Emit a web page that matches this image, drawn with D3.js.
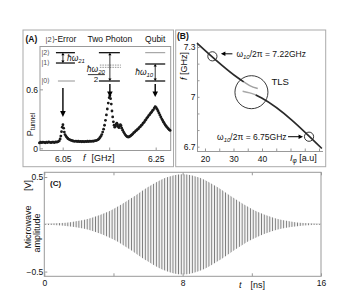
<!DOCTYPE html>
<html>
<head>
<meta charset="utf-8">
<script src="https://cdn.jsdelivr.net/npm/d3@7"></script>
<style>
  body { margin: 0; background: #fff; }
  svg { display: block; font-family: "Liberation Sans", Arial, sans-serif; }
</style>
</head>
<body>
<div id="chart"></div>
<script>
// (A) tunnelling probability vs microwave frequency [GHz, P]
var specA = [
  [6.000,0.055],[6.0025,0.062],[6.005,0.058],[6.0075,0.064],[6.010,0.060],[6.0125,0.057],
  [6.015,0.063],[6.0175,0.059],[6.020,0.065],[6.0225,0.061],[6.025,0.058],[6.0275,0.064],
  [6.030,0.062],[6.0325,0.059],[6.035,0.066],[6.0375,0.063],[6.040,0.068],[6.0425,0.075],
  [6.0445,0.095],[6.046,0.125],[6.0475,0.170],[6.049,0.215],[6.0505,0.240],[6.052,0.205],
  [6.0535,0.165],[6.055,0.140],[6.057,0.125],[6.059,0.112],[6.061,0.100],[6.0635,0.092],
  [6.066,0.086],[6.0685,0.080],[6.071,0.077],[6.0735,0.073],[6.076,0.071],[6.0785,0.074],
  [6.081,0.069],[6.0835,0.072],[6.086,0.068],[6.0885,0.071],[6.091,0.067],[6.0935,0.070],
  [6.096,0.066],[6.0985,0.071],[6.101,0.068],[6.1035,0.072],[6.106,0.069],[6.1085,0.073],
  [6.111,0.070],[6.1135,0.074],[6.116,0.072],[6.1185,0.076],[6.121,0.078],[6.1235,0.082],
  [6.126,0.088],[6.128,0.096],[6.130,0.108],[6.132,0.122],[6.134,0.140],[6.136,0.165],
  [6.138,0.195],[6.140,0.235],[6.142,0.285],[6.144,0.340],[6.146,0.400],[6.148,0.460],
  [6.150,0.515],[6.1515,0.535],[6.153,0.505],[6.1545,0.450],[6.156,0.380],[6.1575,0.320],
  [6.159,0.270],[6.1605,0.235],[6.162,0.215],[6.1635,0.225],[6.165,0.245],[6.1665,0.255],
  [6.168,0.240],[6.1695,0.220],[6.171,0.210],[6.1725,0.225],[6.174,0.240],[6.1755,0.230],
  [6.177,0.205],[6.179,0.185],[6.181,0.165],[6.183,0.150],[6.185,0.135],[6.187,0.125],
  [6.189,0.118],[6.191,0.115],[6.193,0.118],[6.195,0.124],[6.197,0.131],[6.199,0.139],
  [6.201,0.148],[6.203,0.160],[6.205,0.165],[6.207,0.178],[6.209,0.183],[6.211,0.195],
  [6.213,0.200],[6.215,0.214],[6.217,0.220],[6.219,0.233],[6.221,0.242],[6.223,0.257],
  [6.225,0.265],[6.227,0.281],[6.229,0.292],[6.231,0.308],[6.233,0.318],[6.235,0.333],
  [6.237,0.342],[6.239,0.358],[6.241,0.368],[6.243,0.383],[6.245,0.392],[6.247,0.410],
  [6.249,0.425],[6.251,0.415],[6.253,0.398],[6.255,0.380],[6.257,0.360],[6.259,0.340],
  [6.261,0.320],[6.263,0.300],[6.265,0.283],[6.267,0.266],[6.269,0.250],[6.271,0.236],
  [6.273,0.223],[6.275,0.211],[6.277,0.200],[6.279,0.190],[6.281,0.182]
];
var peaksA = [6.0505, 6.1515, 6.249];
var titlesA = ["-Error", "Two Photon", "Qubit"];
var ticksAx = [6.05, 6.15, 6.25];
var ticksAy = [0, 0.6];

// (B) qubit frequency vs flux bias [I_phi a.u., GHz]
var lineTop = [[17.2,7.324],[31.5,7.115],[33.6,7.090]];
var fadeTop = [[33.6,7.090],[35.7,7.068],[38.5,7.050]];
var fadeBottom = [[33.2,7.034],[35.7,7.024],[37.8,7.012]];
var lineBottom = [[37.8,7.012],[39.9,6.993],[61.0,6.689]];
var markHigh = [22.6, 7.244];
var markLow = [56.5, 6.760];
var markTLS = [36.3, 7.028];
var ticksBx = [20, 25, 30, 35, 40, 45, 50, 55, 60];
var labelsBx = [20, 30, 40];
var ticksBy = [6.7, 6.8, 6.9, 7.0, 7.1, 7.2, 7.3];
var labelsBy = [6.7, 7.0, 7.3];

// (C) gaussian microwave pulse: envelope amplitude [V] vs time [ns]
var pulseT = [0,0.5,1,1.5,2,2.5,3,3.5,4,4.5,5,5.5,6,6.5,7,7.5,8,
              8.5,9,9.5,10,10.5,11,11.5,12,12.5,13,13.5,14,14.5,15,15.5,16];
var pulseAmp = [0.004,0.008,0.014,0.023,0.037,0.056,0.084,0.119,0.162,0.214,0.272,0.334,0.394,0.448,0.492,0.520,0.530,
                0.520,0.492,0.448,0.394,0.334,0.272,0.214,0.162,0.119,0.084,0.056,0.037,0.023,0.014,0.008,0.004];
var carrierGHz = 6.25;
var ticksCx = [0, 4, 8, 12, 16];
var labelsCx = [0, 8, 16];
var ticksCy = [-0.5, 0.5];

var width = 349, height = 299;
var svg = d3.select("#chart").append("svg")
    .attr("width", width)
    .attr("height", height);
var defs = svg.append("defs");

var frame = "#999", ink = "#111";

function arrow(g, x1, y1, x2, y2, len, half, sw, both) {
  var a = Math.atan2(y2 - y1, x2 - x1);
  function head(px, py, ang) {
    var bx = px - len * Math.cos(ang), by = py - len * Math.sin(ang);
    var p = [[px, py],
             [bx + half * Math.sin(ang), by - half * Math.cos(ang)],
             [bx - half * Math.sin(ang), by + half * Math.cos(ang)]];
    g.append("path").attr("d", "M" + p.join("L") + "Z").attr("fill", "#000");
  }
  var s = both ? len * 0.7 : 0;
  g.append("line")
      .attr("x1", x1 + s * Math.cos(a)).attr("y1", y1 + s * Math.sin(a))
      .attr("x2", x2 - len * 0.7 * Math.cos(a)).attr("y2", y2 - len * 0.7 * Math.sin(a))
      .attr("stroke", "#000").attr("stroke-width", sw);
  head(x2, y2, a);
  if (both) head(x1, y1, a + Math.PI);
}

// ---------- outer boxes ----------
svg.append("rect").attr("x", 23).attr("y", 30).attr("width", 150.5).attr("height", 136.7)
    .attr("fill", "none").attr("stroke", "#aaa").attr("stroke-width", 1);
svg.append("rect").attr("x", 175.7).attr("y", 30).attr("width", 150).attr("height", 136.7)
    .attr("fill", "none").attr("stroke", "#aaa").attr("stroke-width", 1);

// ---------- panel A ----------
var xA = d3.scaleLinear().domain([6.0012, 6.2823]).range([40, 170.7]);
var yA = d3.scaleLinear().domain([-0.022, 1.036]).range([150.5, 46.5]);
var gA = svg.append("g");

gA.append("rect").attr("x", 40).attr("y", 46.5).attr("width", 130.7).attr("height", 104)
    .attr("fill", "none").attr("stroke", frame).attr("stroke-width", 1);

var axAx = gA.append("g").attr("transform", "translate(0,150.5)")
    .call(d3.axisBottom(xA).tickValues(ticksAx).tickSize(-3).tickPadding(5)
      .tickFormat(function(d) { return d === 6.15 ? "" : d3.format(".2f")(d); }));
var axAy = gA.append("g").attr("transform", "translate(40,0)")
    .call(d3.axisLeft(yA).tickValues(ticksAy).tickSize(-3).tickPadding(2).tickFormat(d3.format("")));
[axAx, axAy].forEach(function(a) {
  a.select(".domain").remove();
  a.selectAll("line").attr("stroke", frame);
  a.selectAll("text").attr("font-size", 8.5).attr("fill", ink).attr("font-family", "Liberation Sans, Arial");
});
axAy.selectAll("text").attr("dy", "0.35em");

gA.selectAll(".dot")
    .data(specA)
  .enter().append("circle")
    .attr("class", "dot")
    .attr("cx", function(d) { return xA(d[0]); })
    .attr("cy", function(d) { return yA(d[1]); })
    .attr("r", 1.4)
    .attr("fill", "#1a1a1a");

// titles
gA.append("text").attr("x", 25.5).attr("y", 41.5).attr("font-size", 8.5).attr("font-weight", "bold")
    .attr("fill", ink).text("(A)");
peaksA.forEach(function(p, i) {
  var t = gA.append("text").attr("x", xA(p) - (i === 0 ? 2 : 0)).attr("y", 41.5)
      .attr("text-anchor", "middle").attr("font-size", 8.5).attr("fill", ink);
  if (i === 0) t.append("tspan").attr("font-size", 7.5).attr("fill", "#444").text("|2\u27E9");
  t.append("tspan").text(titlesA[i]);
});

function level(x1, x2, P, col, dash) {
  gA.append("line").attr("x1", x1).attr("x2", x2).attr("y1", yA(P)).attr("y2", yA(P))
      .attr("stroke", col).attr("stroke-width", col === "#000" ? 1.2 : 0.9)
      .attr("stroke-dasharray", dash || null);
}
function hbar(x, y, parts, anchor) {
  var t = gA.append("text").attr("x", x).attr("y", y).attr("font-size", 8.5)
      .attr("font-style", "italic").attr("fill", ink).attr("text-anchor", anchor || "start");
  t.append("tspan").text("\u0127\u03C9");
  t.append("tspan").attr("font-size", 6).attr("dy", 2).text(parts);
  return t;
}

// error transition |1> -> |2>
var a0 = xA(peaksA[0]);
level(a0 - 7, a0 + 12, 0.973, "#000");
level(a0 - 7, a0 + 12, 0.868, "#000");
level(a0 - 5, a0 + 12, 0.685, "#888");
[["|2\u27E9", 0.973], ["|1\u27E9", 0.868], ["|0\u27E9", 0.685]].forEach(function(l) {
  gA.append("text").attr("x", 41.5).attr("y", yA(l[1])).attr("dy", "0.35em")
      .attr("font-size", 7).attr("fill", "#555").text(l[0]);
});
arrow(gA, a0, yA(0.973), a0, yA(0.868), 2.5, 1.6, 0.8, true);
hbar(a0 + 4, yA(0.92) + 3, "21");
arrow(gA, a0, yA(0.613), a0, yA(0.318), 6, 2.8, 1.4, false);

// two photon transition
var a1 = xA(peaksA[1]);
level(a1 - 11, a1 + 10, 0.973, "#000");
level(a1 - 10, a1 + 11, 0.847, "#888", "1.5,1");
level(a1 - 10, a1 + 11, 0.824, "#888", "1.5,1");
level(a1 - 11, a1 + 10, 0.685, "#000");
arrow(gA, a1, yA(0.973), a1, yA(0.685), 2.5, 1.6, 0.8, true);
var fx = a1 - 14;
hbar(fx, yA(0.78), "20", "middle");
gA.append("line").attr("x1", fx - 8).attr("x2", fx + 9).attr("y1", yA(0.75)).attr("y2", yA(0.75))
    .attr("stroke", "#000").attr("stroke-width", 0.8);
gA.append("text").attr("x", fx).attr("y", yA(0.67)).attr("text-anchor", "middle")
    .attr("font-size", 8).attr("fill", ink).text("2");
arrow(gA, a1, yA(0.654), a1, yA(0.522), 5.5, 2.8, 1.4, false);

// qubit transition
var a2 = xA(peaksA[2]);
level(a2 - 10, a2 + 10, 0.973, "#888");
level(a2 - 10, a2 + 10, 0.858, "#000");
level(a2 - 10, a2 + 10, 0.685, "#000");
arrow(gA, a2, yA(0.858), a2, yA(0.685), 2.5, 1.6, 0.8, true);
hbar(a2 - 2, yA(0.77) + 2, "10", "end");
arrow(gA, a2, yA(0.654), a2, yA(0.522), 5.5, 2.8, 1.4, false);

// axis labels A
var pl = gA.append("text").attr("transform", "translate(33,124.5)rotate(-90)")
    .attr("text-anchor", "middle").attr("font-size", 9).attr("fill", ink);
pl.append("tspan").text("P");
pl.append("tspan").attr("font-size", 6.5).attr("dy", 2).text("tunnel");
gA.append("text").attr("x", 83).attr("y", 160.5).attr("font-size", 9).attr("font-style", "italic")
    .attr("fill", ink).text("f");
gA.append("text").attr("x", 91.5).attr("y", 160.5).attr("font-size", 9).attr("fill", ink).text("[GHz]");

// ---------- panel B ----------
var xB = d3.scaleLinear().domain([17.2, 61.4]).range([197, 323]);
var yB = d3.scaleLinear().domain([6.674, 7.326]).range([151, 42.7]);
var gB = svg.append("g");

var axBx = gB.append("g").attr("transform", "translate(0,151)")
    .call(d3.axisBottom(xB).tickValues(ticksBx).tickSize(-2.5).tickPadding(5)
      .tickFormat(function(d) { return labelsBx.indexOf(d) >= 0 ? d : ""; }));
var axBy = gB.append("g").attr("transform", "translate(197,0)")
    .call(d3.axisLeft(yB).tickValues(ticksBy).tickSize(-2.5).tickPadding(1.5)
      .tickFormat(function(d) {
        return labelsBy.some(function(l) { return Math.abs(l - d) < 1e-9; }) ? d3.format("")(+d.toFixed(1)) : "";
      }));
[axBx, axBy].forEach(function(a) {
  a.select(".domain").attr("stroke", frame);
  a.selectAll("line").attr("stroke", frame);
  a.selectAll("text").attr("font-size", 8.5).attr("fill", ink).attr("font-family", "Liberation Sans, Arial");
});
axBy.select(".domain").attr("d", "M0.5," + yB(7.326) + "V" + yB(6.674));
axBx.select(".domain").attr("d", "M" + xB(17.2) + ",0.5H" + xB(61.4));

var lineB = d3.line()
    .x(function(d) { return xB(d[0]); })
    .y(function(d) { return yB(d[1]); })
    .curve(d3.curveMonotoneX);

gB.append("path").datum(fadeTop).attr("d", lineB).attr("fill", "none")
    .attr("stroke", "#a0a0a0").attr("stroke-width", 1.4);
gB.append("path").datum(fadeBottom).attr("d", lineB).attr("fill", "none")
    .attr("stroke", "#a8a8a8").attr("stroke-width", 1.4);
[lineTop, lineBottom].forEach(function(seg) {
  gB.append("path").datum(seg).attr("d", lineB).attr("fill", "none")
      .attr("stroke", "#2a2a2a").attr("stroke-width", 1.7);
});

[[markHigh, 4.6], [markLow, 4.6], [markTLS, 16.5]].forEach(function(m) {
  gB.append("circle").attr("cx", xB(m[0][0])).attr("cy", yB(m[0][1])).attr("r", m[1])
      .attr("fill", "none").attr("stroke", "#222").attr("stroke-width", 0.9);
});

function omegaLabel(x, y, value, anchor) {
  var t = gB.append("text").attr("x", x).attr("y", y).attr("font-size", 8.5)
      .attr("fill", ink).attr("text-anchor", anchor);
  t.append("tspan").text("\u03C9");
  t.append("tspan").attr("font-size", 6).attr("dy", 2).attr("font-style", "italic").text("10");
  t.append("tspan").attr("dy", -2).text("/2\u03C0 = " + value + "GHz");
}
var hx = xB(markHigh[0]), hy = yB(markHigh[1]);
arrow(gB, hx + 20, hy - 2.5, hx + 8.5, hy - 2.5, 4.5, 2.2, 1, false);
omegaLabel(hx + 24, hy + 0.5, "7.22", "start");
var lx = xB(markLow[0]), ly = yB(markLow[1]);
arrow(gB, lx - 21, ly, lx - 6, ly, 4.5, 2.2, 1, false);
omegaLabel(lx - 22.5, ly + 3, "6.75", "end");
gB.append("text").attr("x", xB(markTLS[0]) + 20).attr("y", yB(markTLS[1]) - 7)
    .attr("font-size", 9.5).attr("fill", ink).text("TLS");

gB.append("text").attr("x", 177).attr("y", 38.5).attr("font-size", 8.5).attr("font-weight", "bold")
    .attr("fill", ink).text("(B)");
var fb = gB.append("text").attr("transform", "translate(187,66)rotate(-90)")
    .attr("text-anchor", "middle").attr("font-size", 9).attr("fill", ink);
fb.append("tspan").attr("font-style", "italic").text("f");
fb.append("tspan").text("  [GHz]");
var ib = gB.append("text").attr("x", 290).attr("y", 160.5).attr("font-size", 9).attr("fill", ink);
ib.append("tspan").attr("font-style", "italic").text("I");
ib.append("tspan").attr("font-style", "italic").attr("font-size", 6.5).attr("dy", 2.5).text("\u03C6");
ib.append("tspan").attr("dy", -2.5).text("  [a.u]");

// ---------- panel C ----------
var xC = d3.scaleLinear().domain([0, 16]).range([44.3, 321]);
var yC = d3.scaleLinear().domain([-0.55, 0.55]).range([276.3, 172.3]);
var gC = svg.append("g");

var pw = xC(1 / carrierGHz) - xC(0);
defs.append("pattern").attr("id", "carrier").attr("patternUnits", "userSpaceOnUse")
    .attr("x", xC(0)).attr("y", 0).attr("width", pw).attr("height", 20)
  .append("line").attr("x1", pw / 2).attr("x2", pw / 2).attr("y1", 0).attr("y2", 20)
    .attr("stroke", "#7c7c7c").attr("stroke-width", 1.1);

var pulse = pulseT.map(function(t, i) { return [t, pulseAmp[i]]; });
var env = d3.area()
    .x(function(d) { return xC(d[0]); })
    .y0(function(d) { return yC(-d[1]); })
    .y1(function(d) { return yC(d[1]); })
    .curve(d3.curveMonotoneX);

gC.append("line").attr("x1", xC(0)).attr("x2", xC(16)).attr("y1", yC(0)).attr("y2", yC(0))
    .attr("stroke", "#777").attr("stroke-width", 0.9);
gC.append("path").datum(pulse).attr("d", env).attr("fill", "#fff");
gC.append("path").datum(pulse).attr("d", env).attr("fill", "url(#carrier)");

gC.append("rect").attr("x", 44.3).attr("y", 172.3).attr("width", 276.7).attr("height", 104)
    .attr("fill", "none").attr("stroke", frame).attr("stroke-width", 1);

var axCx = gC.append("g").attr("transform", "translate(0,276.3)")
    .call(d3.axisBottom(xC).tickValues(ticksCx).tickSize(-3).tickPadding(4)
      .tickFormat(function(d) { return labelsCx.indexOf(d) >= 0 ? d : ""; }));
var axCt = gC.append("g").attr("transform", "translate(0,172.3)")
    .call(d3.axisTop(xC).tickValues(ticksCx).tickSize(-3).tickFormat(""));
var axCy = gC.append("g").attr("transform", "translate(44.3,0)")
    .call(d3.axisLeft(yC).tickValues(ticksCy).tickSize(-3).tickPadding(1).tickFormat(d3.format("")));
[axCx, axCt, axCy].forEach(function(a) {
  a.select(".domain").remove();
  a.selectAll("line").attr("stroke", frame);
  a.selectAll("text").attr("font-size", 8.5).attr("fill", ink).attr("font-family", "Liberation Sans, Arial");
});

gC.append("text").attr("x", 50).attr("y", 186).attr("font-size", 8).attr("font-weight", "bold")
    .attr("fill", ink).text("(C)");
gC.append("text").attr("transform", "translate(30.5,227)rotate(-90)").attr("text-anchor", "middle")
    .attr("font-size", 9).attr("fill", ink).text("Microwave");
gC.append("text").attr("transform", "translate(30.5,185.5)rotate(-90)").attr("text-anchor", "middle")
    .attr("font-size", 9).attr("fill", ink).text("[V]");
gC.append("text").attr("transform", "translate(39.5,233)rotate(-90)").attr("text-anchor", "middle")
    .attr("font-size", 9).attr("fill", ink).text("amplitude");
gC.append("text").attr("x", 239).attr("y", 288).attr("font-size", 9).attr("font-style", "italic")
    .attr("fill", ink).text("t");
gC.append("text").attr("x", 250.5).attr("y", 288).attr("font-size", 9).attr("fill", ink).text("[ns]");
</script>
</body>
</html>
